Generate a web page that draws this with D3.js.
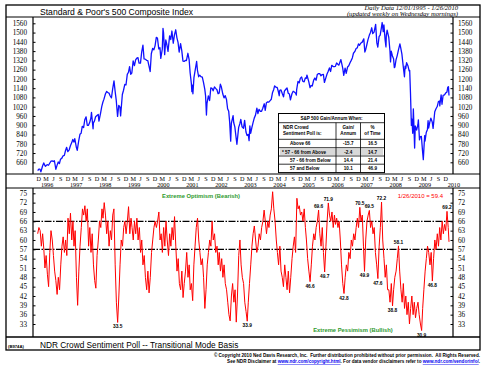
<!DOCTYPE html>
<html><head><meta charset="utf-8">
<script src="https://cdn.jsdelivr.net/npm/d3@7"></script>
<style>body{margin:0;background:#fff}svg{display:block}</style>
</head><body><svg id="c" width="490" height="372"></svg>
<script>
// ---------------- DATA ----------------
const spxDates = ["1995-12-01","1995-12-15","1995-12-29","1996-01-10","1996-01-31","1996-02-15","1996-02-29","1996-03-08","1996-03-29","1996-04-15","1996-04-30","1996-05-15","1996-05-31","1996-06-14","1996-06-28","1996-07-16","1996-07-31","1996-08-15","1996-08-30","1996-09-13","1996-09-30","1996-10-15","1996-10-31","1996-11-15","1996-11-29","1996-12-13","1996-12-31",
"1997-01-15","1997-01-31","1997-02-14","1997-02-28","1997-03-11","1997-03-31","1997-04-11","1997-04-30","1997-05-15","1997-05-30","1997-06-13","1997-06-30","1997-07-15","1997-07-31","1997-08-15","1997-08-29","1997-09-15","1997-09-30","1997-10-07","1997-10-27","1997-10-31","1997-11-14","1997-11-28","1997-12-15","1997-12-31",
"1998-01-09","1998-01-30","1998-02-13","1998-02-27","1998-03-13","1998-03-31","1998-04-15","1998-04-30","1998-05-15","1998-05-29","1998-06-15","1998-06-30","1998-07-17","1998-07-31","1998-08-14","1998-08-31","1998-09-15","1998-09-30","1998-10-08","1998-10-30","1998-11-13","1998-11-30","1998-12-15","1998-12-31",
"1999-01-15","1999-01-29","1999-02-12","1999-02-26","1999-03-15","1999-03-31","1999-04-15","1999-04-30","1999-05-14","1999-05-28","1999-06-15","1999-06-30","1999-07-16","1999-07-30","1999-08-13","1999-08-31","1999-09-15","1999-09-30","1999-10-15","1999-10-29","1999-11-15","1999-11-30","1999-12-15","1999-12-31",
"2000-01-14","2000-01-31","2000-02-15","2000-02-25","2000-03-15","2000-03-24","2000-03-31","2000-04-14","2000-04-28","2000-05-12","2000-05-26","2000-06-15","2000-06-30","2000-07-14","2000-07-31","2000-08-15","2000-08-31","2000-09-15","2000-09-29","2000-10-13","2000-10-31","2000-11-15","2000-11-30","2000-12-15","2000-12-29",
"2001-01-12","2001-01-31","2001-02-15","2001-02-28","2001-03-15","2001-03-22","2001-03-30","2001-04-04","2001-04-17","2001-04-30","2001-05-21","2001-05-31","2001-06-15","2001-06-29","2001-07-13","2001-07-31","2001-08-15","2001-08-31","2001-09-10","2001-09-21","2001-09-28","2001-10-15","2001-10-31","2001-11-15","2001-11-30","2001-12-14","2001-12-31",
"2002-01-15","2002-01-31","2002-02-15","2002-02-28","2002-03-15","2002-03-28","2002-04-15","2002-04-30","2002-05-15","2002-05-31","2002-06-14","2002-06-28","2002-07-10","2002-07-23","2002-07-31","2002-08-22","2002-08-30","2002-09-13","2002-09-30","2002-10-09","2002-10-31","2002-11-15","2002-11-27","2002-12-13","2002-12-31",
"2003-01-14","2003-01-31","2003-02-14","2003-02-28","2003-03-11","2003-03-21","2003-03-31","2003-04-15","2003-04-30","2003-05-15","2003-05-30","2003-06-17","2003-06-30","2003-07-14","2003-07-31","2003-08-15","2003-08-29","2003-09-18","2003-09-30","2003-10-15","2003-10-31","2003-11-14","2003-11-28","2003-12-15","2003-12-31",
"2004-01-15","2004-01-26","2004-02-13","2004-02-27","2004-03-12","2004-03-24","2004-03-31","2004-04-15","2004-04-30","2004-05-17","2004-05-28","2004-06-15","2004-06-30","2004-07-15","2004-07-30","2004-08-12","2004-08-31","2004-09-15","2004-09-30","2004-10-15","2004-10-25","2004-10-29","2004-11-15","2004-11-30","2004-12-15","2004-12-31",
"2005-01-14","2005-01-31","2005-02-15","2005-02-28","2005-03-07","2005-03-31","2005-04-15","2005-04-29","2005-05-13","2005-05-31","2005-06-15","2005-06-30","2005-07-15","2005-07-29","2005-08-15","2005-08-31","2005-09-15","2005-09-30","2005-10-13","2005-10-31","2005-11-15","2005-11-30","2005-12-15","2005-12-30",
"2006-01-13","2006-01-31","2006-02-15","2006-02-28","2006-03-15","2006-03-31","2006-04-13","2006-04-28","2006-05-08","2006-05-31","2006-06-13","2006-06-30","2006-07-14","2006-07-31","2006-08-15","2006-08-31","2006-09-15","2006-09-29","2006-10-13","2006-10-31","2006-11-15","2006-11-30","2006-12-15","2006-12-29",
"2007-01-12","2007-01-31","2007-02-20","2007-03-05","2007-03-15","2007-03-30","2007-04-13","2007-04-30","2007-05-15","2007-05-31","2007-06-12","2007-06-29","2007-07-19","2007-08-03","2007-08-15","2007-08-31","2007-09-14","2007-09-28","2007-10-09","2007-10-22","2007-10-31","2007-11-15","2007-11-26","2007-11-30","2007-12-10","2007-12-31",
"2008-01-15","2008-01-22","2008-01-31","2008-02-15","2008-02-29","2008-03-10","2008-03-17","2008-03-31","2008-04-15","2008-04-30","2008-05-19","2008-05-30","2008-06-13","2008-06-30","2008-07-15","2008-07-23","2008-07-31","2008-08-11","2008-08-29","2008-09-12","2008-09-19","2008-09-29","2008-10-10","2008-10-17","2008-10-27","2008-11-04","2008-11-20","2008-11-28","2008-12-15","2008-12-31",
"2009-01-06","2009-01-20","2009-01-30","2009-02-13","2009-02-27","2009-03-09","2009-03-26","2009-03-31","2009-04-15","2009-04-30","2009-05-08","2009-05-15","2009-05-29","2009-06-12","2009-06-30","2009-07-10","2009-07-31","2009-08-14","2009-08-31","2009-09-15","2009-09-30","2009-10-02","2009-10-19","2009-10-30","2009-11-13","2009-11-30","2009-12-15","2009-12-31",
"2010-01-11","2010-01-19","2010-01-26"];
const spxValues = [606,616,616,598,636,656,640,634,645,641,654,667,669,665,670,615,640,662,652,680,687,702,705,737,757,729,741,
767,786,808,791,813,757,737,801,841,848,893,885,936,954,900,899,919,947,983,877,915,928,955,963,970,
927,980,1020,1049,1069,1102,1119,1112,1108,1091,1077,1134,1187,1121,1063,957,1029,1017,960,1099,1125,1164,1162,1229,
1243,1280,1230,1238,1317,1286,1323,1335,1338,1302,1302,1373,1418,1329,1328,1320,1318,1283,1248,1363,1397,1389,1414,1469,
1465,1394,1402,1333,1392,1527,1499,1357,1452,1421,1378,1479,1455,1510,1431,1485,1518,1466,1437,1374,1429,1383,1315,1313,1320,
1318,1366,1327,1240,1173,1117,1160,1104,1208,1249,1313,1256,1214,1224,1215,1211,1178,1134,1092,966,1041,1090,1060,1142,1139,1123,1148,
1139,1130,1104,1107,1166,1147,1102,1077,1092,1067,1007,990,920,797,912,962,916,889,815,777,886,910,938,890,880,
931,856,834,841,800,895,848,885,917,946,964,1011,975,1003,990,990,1008,1039,996,1046,1051,1050,1058,1068,1112,
1132,1155,1146,1145,1120,1091,1126,1129,1107,1084,1121,1133,1141,1107,1102,1064,1104,1120,1115,1108,1095,1130,1184,1174,1205,1212,
1185,1181,1206,1204,1225,1181,1143,1157,1154,1192,1206,1191,1228,1234,1234,1220,1228,1229,1177,1207,1232,1249,1271,1248,
1288,1280,1280,1281,1303,1295,1289,1311,1325,1270,1223,1270,1236,1277,1285,1304,1320,1336,1366,1378,1397,1401,1427,1418,
1431,1438,1459,1374,1388,1421,1453,1482,1501,1531,1493,1503,1553,1433,1406,1474,1484,1527,1565,1506,1549,1452,1407,1481,1515,1468,
1381,1310,1379,1349,1331,1273,1277,1323,1351,1386,1427,1400,1360,1280,1214,1282,1267,1305,1283,1252,1255,1106,899,940,848,1006,752,896,868,903,
935,805,826,827,735,677,833,798,853,873,929,882,919,946,919,880,987,1005,1021,1053,1057,1025,1097,1036,1094,1096,1108,1115,
1146,1150,1092];

// NDR Crowd Sentiment Poll, semi-monthly (1st and 16th of each month) from 1995-12-01
const pollStart = "1995-12-01";
const pollValues = [62,64,
/*1996*/ 63,58,62,57,51,55,49,45,56,63,60,55,50,47,42.5,48,44,52,58,61,56,60,55,67,
/*1997*/ 62,68.6,60,66,58,63,48,39,50,58,64,70,68,71,66,70,58,64,56,62,52,47,44.5,55,
/*1998*/ 60,66,64,70,67,72,68,62,66,58,63,60,68,70,52,40,33.5,42,52,60,58,64,66,62,
/*1999*/ 66,70.7,62,67,64,60,66,62,67,60,64,56,60,52,55,48,44,50,43,48,56,60,64,66,
/*2000*/ 64,66,69,60,62,56,64,58,66,60,55,62,58,64,60,67.5,58,50,54,46,44,50,41.5,46,
/*2001*/ 50,56,48,52,44,46,40.5,52,58,64,67,60,56,52,54,48,38,44,52,56,60,58,66,60,
/*2002*/ 62,56,58,52,56,50,54,48,52,46,44,40,36,34,42,46,40,44,33.6,42,55,60,52,48,
/*2003*/ 46,40,37,33.9,40,46,52,58,62,64.5,60,56,58,62,60,64,66,69.6,66,62,66,64,68,70,
/*2004*/ 75.5,70,66,60,56,52,58,50,48,45,52,48,44,50,43,48,54,58,61,56,73.4,70,71,68,
/*2005*/ 69,66,70,64,60,54,50,46.6,52,58,62,60,64,66,69.6,62,58,64,56,49.7,58,66,71.9,68,
/*2006*/ 66,69,64,68,65,67,64,66,60,52,46,42.8,48,52,50,56,54,60,58,62,60,64,67,64,
/*2007*/ 70.5,66,68,58,49.9,60,66,68,69.5,64,66,62,64,56,52,47.6,58,64,72.2,60,54,48,52,44,
/*2008*/ 44,40,46,38.8,44,48,50,54,58.1,50,44,40,46,38,42,36,40,33,38,42,36,40,35,38,
/*2009*/ 40,36,33,30.9,38,44,50,54,58,56,52,56,46.8,54,60,57,62,58,64,60,66,62,65,63,
/*2010*/ 69.2,64];
const pollLastDate = "2010-01-26";
const pollLastValue = 59.4;

const spxTicks = d3.range(660, 1561, 60);
const pollTicks = d3.range(33, 76, 3);
const yearLabels = d3.range(1996, 2011);
const quarterLetters = [[11,"D"],[2,"M"],[5,"J"],[8,"S"]];
const thresholds = [66, 57];

const annotations = [
  {date:"1998-09-01", label:"33.5", pos:"below"},
  {date:"2003-02-16", label:"33.9", pos:"below"},
  {date:"2005-04-16", label:"46.6", pos:"below"},
  {date:"2005-08-01", label:"69.6", pos:"above"},
  {date:"2005-10-16", label:"49.7", pos:"below"},
  {date:"2005-12-01", label:"71.9", pos:"above"},
  {date:"2006-06-16", label:"42.8", pos:"below"},
  {date:"2007-01-01", label:"70.5", pos:"above"},
  {date:"2007-03-01", label:"49.9", pos:"below"},
  {date:"2007-05-01", label:"69.5", pos:"above"},
  {date:"2007-08-16", label:"47.6", pos:"below"},
  {date:"2007-10-01", label:"72.2", pos:"above"},
  {date:"2008-02-16", label:"38.8", pos:"below"},
  {date:"2008-05-01", label:"58.1", pos:"above"},
  {date:"2009-02-16", label:"30.9", pos:"below"},
  {date:"2009-07-01", label:"46.8", pos:"below"},
  {date:"2010-01-01", label:"69.2", pos:"above"}
];

const tableTitle = "S&P 500 Gain/Annum When:";
const tableHead = [["NDR Crowd","Sentiment Poll is:"],["Gain/","Annum"],["%","of Time"]];
const tableRows = [
  ["Above 66","-15.7","16.5"],
  ["* 57 - 66 from Above","-2.4","14.7"],
  ["57 - 66 from Below","14.4","21.4"],
  ["57 and Below","10.1","46.9"]
];

// ---------------- LAYOUT ----------------
const parse = d3.timeParse("%Y-%m-%d");
const svg = d3.select("#c");
const L = 6, R = 480, T = 5, B = 350;
const axL = 33, axR = 453;
const topY0 = 17, topY1 = 174, botY0 = 188, botY1 = 337;
const SANS = "Liberation Sans, Arial, sans-serif";
const SERIF = "Liberation Serif, Times New Roman, serif";

const x = d3.scaleTime().domain([parse("1995-12-01"), parse("2010-01-26")]).range([37.7, 449]);
const yS = d3.scaleLinear().domain([660, 1560]).range([162.3, 23.3]);
const yP = d3.scaleLinear().domain([33, 75]).range([324, 193.3]);

const spx = spxDates.map((d, i) => ({d: parse(d), v: spxValues[i]}));
const poll = pollValues.map((v, i) => {
  const s = parse(pollStart);
  const m = Math.floor(i / 2);
  return {d: new Date(s.getFullYear(), s.getMonth() + m, i % 2 ? 16 : 1), v};
});
poll.push({d: parse(pollLastDate), v: pollLastValue});

// frame
const line = (x1,y1,x2,y2,w=1) => svg.append("line").attr("x1",x1).attr("y1",y1).attr("x2",x2).attr("y2",y2)
  .attr("stroke","#000").attr("stroke-width",w);
svg.append("rect").attr("x",L).attr("y",T).attr("width",R-L).attr("height",B-T).attr("fill","none").attr("stroke","#000").attr("stroke-width",1.3);
line(L,topY0,R,topY0,1);
line(L,topY1,R,topY1,1);
line(L,botY0,R,botY0,1);
line(L,botY1,R,botY1,1.3);
line(axL,topY0,axL,topY1,1.2);
line(axR,topY0,axR,topY1,1.2);
line(axL,botY0,axL,botY1,1.2);
line(axR,botY0,axR,botY1,1.2);

// titles
svg.append("text").attr("x",40).attr("y",14.5).attr("font-family",SANS).attr("font-size",8.6).text("Standard & Poor's 500 Composite Index");
svg.append("text").attr("x",458).attr("y",10.3).attr("text-anchor","end").attr("font-family",SERIF).attr("font-style","italic").attr("font-size",6.6).text("Daily Data 12/01/1995 - 1/26/2010");
svg.append("text").attr("x",458).attr("y",16).attr("text-anchor","end").attr("font-family",SERIF).attr("font-style","italic").attr("font-size",6.6).text("(updated weekly on Wednesday mornings)");

// y axes
function yAxes(scale, ticks) {
  const gl = svg.append("g").attr("transform",`translate(${axL},0)`)
    .call(d3.axisLeft(scale).tickValues(ticks).tickSizeInner(-2.5).tickSizeOuter(0).tickPadding(6).tickFormat(d3.format("d")));
  const gr = svg.append("g").attr("transform",`translate(${axR},0)`)
    .call(d3.axisRight(scale).tickValues(ticks).tickSizeInner(-2.5).tickSizeOuter(0).tickPadding(5).tickFormat(d3.format("d")));
  [gl, gr].forEach(g => {
    g.select(".domain").remove();
    g.selectAll("text").attr("font-family",SERIF).attr("font-size",7.2).attr("fill","#000");
    g.selectAll("line").attr("stroke","#000");
  });
}
yAxes(yS, spxTicks);
yAxes(yP, pollTicks);

// x axis band
const gx = svg.append("g").attr("font-family",SERIF).attr("fill","#000");
const quarters = [];
for (let yr = 1995; yr <= 2009; yr++) for (const [m, l] of quarterLetters) {
  const dt = new Date(yr, m, 15);
  if (dt >= parse("1995-12-01") && dt <= parse("2009-12-31")) quarters.push({dt, l});
}
gx.selectAll("text.q").data(quarters).join("text").attr("class","q")
  .attr("x", d => x(d.dt)).attr("y", 181.3).attr("text-anchor","middle").attr("font-size",6.2).text(d => d.l);
gx.selectAll("text.yr").data(yearLabels).join("text").attr("class","yr")
  .attr("x", d => x(new Date(d, 2, 28))).attr("y", 186.8).attr("text-anchor","middle").attr("font-size",6.2).text(d => d);

// S&P line
svg.append("path").datum(spx).attr("fill","none").attr("stroke","#1010ff").attr("stroke-width",1.3)
  .attr("stroke-linejoin","round").attr("d", d3.line().x(d => x(d.d)).y(d => yS(d.v)));

// table
const tb = svg.append("g").attr("font-family",SANS).attr("font-weight","bold").attr("font-size",4.6);
const tx0 = 278.5, tx1 = 336, tx2 = 360.5, tx3 = 384.5;
const rowsY = [113.5, 122.7, 139.3, 147.7, 156, 164.2, 172.6];
tb.append("rect").attr("x",tx0).attr("y",rowsY[0]).attr("width",tx3-tx0).attr("height",rowsY[6]-rowsY[0]).attr("fill","#fff").attr("stroke","#000").attr("stroke-width",1);
tb.append("rect").attr("x",tx0+1.5).attr("y",rowsY[3]+1).attr("width",tx3-tx0-3).attr("height",rowsY[4]-rowsY[3]-2).attr("fill","#d8d8d8");
rowsY.slice(1,6).forEach(yy => tb.append("line").attr("x1",tx0).attr("x2",tx3).attr("y1",yy).attr("y2",yy).attr("stroke","#000").attr("stroke-width",0.8));
[tx1, tx2].forEach(xx => tb.append("line").attr("x1",xx).attr("x2",xx).attr("y1",rowsY[1]).attr("y2",rowsY[6]).attr("stroke","#000").attr("stroke-width",0.8));
tb.append("text").attr("x",(tx0+tx3)/2).attr("y",119.8).attr("text-anchor","middle").text(tableTitle);
tb.append("text").attr("x",283).attr("y",129).text(tableHead[0][0]);
tb.append("text").attr("x",283).attr("y",134.5).text(tableHead[0][1]);
[[tx1,tx2],[tx2,tx3]].forEach(([a,b], i) => {
  tb.append("text").attr("x",(a+b)/2).attr("y",129).attr("text-anchor","middle").text(tableHead[i+1][0]);
  tb.append("text").attr("x",(a+b)/2).attr("y",134.5).attr("text-anchor","middle").text(tableHead[i+1][1]);
});
tableRows.forEach((r, i) => {
  const yy = (rowsY[i+2] + rowsY[i+3]) / 2 + 1.7;
  tb.append("text").attr("x", i === 1 ? 282 : 290).attr("y", yy).text(r[0]);
  tb.append("text").attr("x",(tx1+tx2)/2).attr("y",yy).attr("text-anchor","middle").text(r[1]);
  tb.append("text").attr("x",(tx2+tx3)/2).attr("y",yy).attr("text-anchor","middle").text(r[2]);
});

// threshold lines
thresholds.forEach(t => svg.append("line").attr("x1",axL).attr("x2",axR).attr("y1",yP(t)).attr("y2",yP(t))
  .attr("stroke","#000").attr("stroke-width",1.2).attr("stroke-dasharray","7,1.5,1.5,1.5"));

// poll line
svg.append("path").datum(poll).attr("fill","none").attr("stroke","#ff0000").attr("stroke-width",1)
  .attr("stroke-linejoin","round").attr("d", d3.line().x(d => x(d.d)).y(d => yP(d.v)));

// annotations
svg.append("g").attr("font-family",SANS).attr("font-weight","bold").attr("font-size",4.8)
  .selectAll("text").data(annotations).join("text")
  .attr("x", d => x(parse(d.date))).attr("y", d => yP(+d.label) + (d.pos === "above" ? -2 : 6))
  .attr("text-anchor","middle").text(d => d.label);

svg.append("text").attr("x",201).attr("y",198).attr("text-anchor","middle").attr("font-family",SANS).attr("font-weight","bold").attr("font-size",5.8).attr("fill","#2e9a2e").text("Extreme Optimism (Bearish)");
svg.append("text").attr("x",353).attr("y",332).attr("text-anchor","middle").attr("font-family",SANS).attr("font-weight","bold").attr("font-size",5.8).attr("fill","#2e9a2e").text("Extreme Pessimism (Bullish)");
svg.append("text").attr("x",443).attr("y",197.5).attr("text-anchor","end").attr("font-family",SANS).attr("font-size",6).attr("fill","#ff0000").text("1/26/2010 = " + pollLastValue);

// footer
svg.append("text").attr("x",8).attr("y",347.8).attr("font-family",SANS).attr("font-weight","bold").attr("font-size",4.2).text("(B974A)");
svg.append("text").attr("x",40).attr("y",348.3).attr("font-family",SANS).attr("font-size",8.3).text("NDR Crowd Sentiment Poll -- Transitional Mode Basis");
const f1 = svg.append("text").attr("x",480).attr("y",356.5).attr("text-anchor","end").attr("font-family",SANS).attr("font-weight","bold").attr("font-size",4.6);
f1.text("\u00A9 Copyright 2010 Ned Davis Research, Inc.  Further distribution prohibited without prior permission.  All Rights Reserved.").attr("xml:space","preserve").style("white-space","pre");
const f2 = svg.append("text").attr("x",480).attr("y",363).attr("text-anchor","end").attr("font-family",SANS).attr("font-weight","bold").attr("font-size",4.6);
f2.append("tspan").text("See NDR Disclaimer at ");
f2.append("tspan").attr("fill","#0000ee").attr("text-decoration","underline").text("www.ndr.com/copyright.html");
f2.append("tspan").text(". For data vendor disclaimers refer to ");
f2.append("tspan").attr("fill","#0000ee").attr("text-decoration","underline").text("www.ndr.com/vendorinfo/");
f2.append("tspan").text(".");
</script></body></html>
